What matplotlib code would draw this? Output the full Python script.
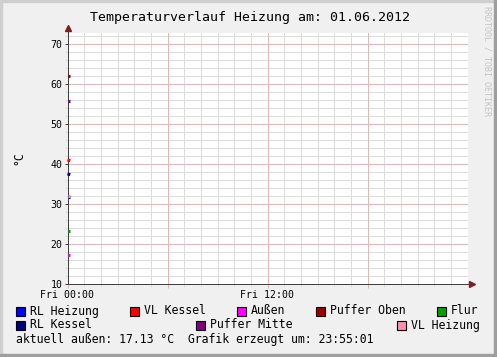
import numpy as np
import matplotlib
matplotlib.use("Agg")
import matplotlib.pyplot as plt
from matplotlib.patches import Rectangle

# series data (hours since Fri 00:00, degC) - only the first samples of the day exist
times = [0.0, 10 / 60.0]
rl_heizung = [31.6, 31.6]
vl_kessel = [40.9, 40.7]
aussen = [17.13, 17.13]
puffer_oben = [61.8, 61.8]
flur = [23.25, 23.25]
rl_kessel = [37.4, 37.2]
puffer_mitte = [55.6, 55.6]
vl_heizung = [32.0, 32.0]

names = ['RL Heizung', 'VL Kessel', 'Außen', 'Puffer Oben', 'Flur',
         'RL Kessel', 'Puffer Mitte', 'VL Heizung']
colors = ['#0000FF', '#FF0000', '#FF00FF', '#A00000', '#00A000',
          '#000080', '#800080', '#FF8FAF']
series = [rl_heizung, vl_kessel, aussen, puffer_oben, flur,
          rl_kessel, puffer_mitte, vl_heizung]

xticks = [0, 6, 12, 18]
xtick_labels = ['Fri 00:00', '', 'Fri 12:00', '']
yticks = [10, 20, 30, 40, 50, 60, 70]

title = 'Temperaturverlauf Heizung am: 01.06.2012'
footer = 'aktuell außen: 17.13 °C  Grafik erzeugt um: 23:55:01'

W, H = 497, 357
mono = 'DejaVu Sans Mono'
minor_c = '#DCDCDC'
major_c = '#F2B0B0'
px = 72 / 100  # one pixel in points

fig = plt.figure(figsize=(W / 100, H / 100), dpi=100)
fig.patch.set_facecolor('#F0F0F0')

# 3d-ish frame like rrdtool
fig.add_artist(Rectangle((0, 1 - 2 / H), 1, 2 / H, transform=fig.transFigure, color='#CFCFCF'))
fig.add_artist(Rectangle((0, 0), 2 / W, 1, transform=fig.transFigure, color='#CFCFCF'))
fig.add_artist(Rectangle((0, 0), 1, 3 / H, transform=fig.transFigure, color='#9E9E9E'))
fig.add_artist(Rectangle((1 - 3 / W, 0), 3 / W, 1, transform=fig.transFigure, color='#9E9E9E'))

# plot area aligned to pixel centres
ax = fig.add_axes([67.5 / W, 73.5 / H, 400 / W, 251 / H])
ax.set_facecolor('white')

ax.set_xlim(0, 24)
ax.set_ylim(10, 72.75)

ax.set_xticks(xticks)
ax.set_xticks([h for h in range(24) if h % 6], minor=True)
ax.set_yticks(yticks)
ax.set_yticks([v for v in range(10, 73, 2) if v % 10], minor=True)

ax.set_xticklabels(xtick_labels, fontfamily=mono, fontsize=7.1)
ax.set_yticklabels([str(v) for v in yticks], fontfamily=mono, fontsize=7.1)
ax.tick_params(which='major', length=3, color=major_c, pad=1.5, width=px)
ax.tick_params(which='minor', length=2, color=minor_c, width=px)
ax.tick_params(axis='y', which='major', color='#404040', length=2)

# minor grid via the axis, major grid as explicit lines (pink)
ax.grid(True, which='minor', color=minor_c, lw=px, zorder=0.5, snap=True)
ax.grid(False, which='major')
for v in yticks[1:]:
    ax.axhline(v, color=major_c, lw=px, zorder=1, snap=True)
for h in xticks[1:]:
    ax.axvline(h, color=major_c, lw=px, zorder=1, snap=True)
ax.set_axisbelow(True)

for vals, c in zip(series, colors):
    ax.plot(times, vals, color=c, lw=2.2, solid_capstyle='butt', zorder=5, clip_on=False)

for s in ['top', 'right']:
    ax.spines[s].set_visible(False)
for s in ['left', 'bottom']:
    ax.spines[s].set_color('#404040')
    ax.spines[s].set_linewidth(px)
    ax.spines[s].set_zorder(4)

# axis arrows
ax.plot([0, 0], [1, 1 + 5 / 251], transform=ax.transAxes, color='#404040', lw=px, clip_on=False)
ax.plot([0], [1 + 5 / 251], transform=ax.transAxes, marker='^', ms=4, color='#7F1F1F',
        clip_on=False)
ax.plot([1, 1 + 4 / 400], [0, 0], transform=ax.transAxes, color='#404040', lw=px, clip_on=False)
ax.plot([1 + 4 / 400], [0], transform=ax.transAxes, marker='>', ms=4, color='#7F1F1F',
        clip_on=False)

ax.set_ylabel('°C', fontfamily=mono, fontsize=8.3, labelpad=18)

fig.text(250 / W, 1 - 17 / H, title, ha='center', va='center', fontfamily=mono, fontsize=9.5)
fig.text(487 / W, 1 - 6 / H, 'RRDTOOL / TOBI OETIKER', rotation=-90, ha='center', va='top',
         fontfamily=mono, fontsize=6.0, color='#C4C4C4')

# legend
legend_pos = [(16, 311), (130, 311), (237, 311), (316, 311), (437, 311),
              (16, 325), (196, 325), (397, 325)]
for (lx, ly), name, c in zip(legend_pos, names, colors):
    fig.add_artist(Rectangle((lx / W, (H - ly - 4.5) / H), 9 / W, 9 / H,
                             transform=fig.transFigure, facecolor=c, edgecolor='black', lw=0.8))
    fig.text((lx + 14) / W, 1 - ly / H, name, ha='left', va='center',
             fontfamily=mono, fontsize=8.3)
fig.text(16 / W, 1 - 339 / H, footer, ha='left', va='center', fontfamily=mono, fontsize=8.3)

fig.savefig('out.png', dpi=100, facecolor=fig.get_facecolor())
